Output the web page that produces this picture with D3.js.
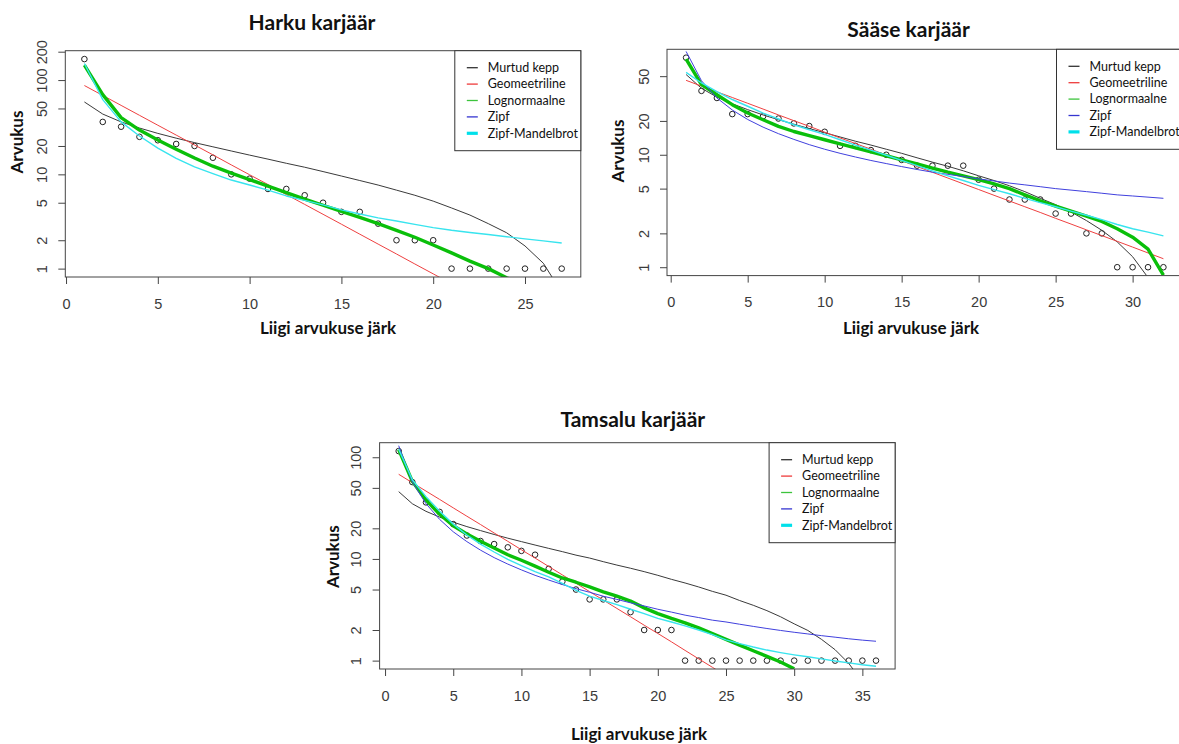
<!DOCTYPE html>
<meta charset="utf-8">

<head>
	<style>
		body { margin: 0; background: #fff; }
		.title { font: bold 21px Lato, sans-serif; fill: #111; }
		.lab { font: bold 17px Lato, sans-serif; fill: #111; }
		.axis text { font: 14.5px "Liberation Sans", Arial, sans-serif; fill: #3a3a3a; }
		.axis line { stroke: #444; }
		.leg text { font: 12.5px Lato, sans-serif; fill: #111; }
	</style>
	<title>Liikide arvukuse järgu mudelid</title>
</head>

<svg width="1179" height="744"></svg>
<script src="https://cdn.jsdelivr.net/npm/d3@7/dist/d3.min.js"></script>

<script>

// legend text, shared by all three panels
var modelNames = ["Murtud kepp", "Geomeetriline", "Lognormaalne", "Zipf", "Zipf-Mandelbrot"];

// Harku: observed abundance per rank and fitted model values (rank = index + 1)
var harkuObs = [167, 36, 32, 25, 23, 21, 20, 15, 10, 9, 7, 7, 6, 5, 4, 4, 3, 2, 2, 2, 1, 1, 1, 1, 1, 1, 1];
var harkuBroken = [58.6, 43.6, 36.0, 31.0, 27.2, 24.2, 21.7, 19.6, 17.7, 16.0, 14.5, 13.1, 11.9, 10.7, 9.6, 8.6, 7.7, 6.8, 6.0, 5.2, 4.4, 3.7, 3.0, 2.4, 1.74, 1.14, 0.56];
var harkuGeom = [87.5, 68.7, 53.9, 42.3, 33.2, 26.1, 20.5, 16.1, 12.6, 9.9, 7.8, 6.1, 4.8, 3.77, 2.96, 2.32, 1.82, 1.43, 1.12, 0.88, 0.69, 0.54, 0.43, 0.33, 0.26, 0.21, 0.16];
var harkuLognorm = [144, 70, 40, 29.5, 23.2, 18.5, 14.9, 12.2, 10.3, 8.8, 7.5, 6.4, 5.45, 4.7, 4.05, 3.5, 3.0, 2.55, 2.15, 1.78, 1.47, 1.2, 1.0, 0.8, 0.65, 0.52, 0.42];
var harkuZipf = null; // not visible in the picture (lies under Zipf-Mandelbrot)
var harkuMandel = [150, 62, 36, 25.5, 19, 14.8, 12, 10.2, 8.7, 7.7, 6.8, 5.9, 5.3, 4.75, 4.2, 3.8, 3.45, 3.2, 2.95, 2.72, 2.55, 2.42, 2.3, 2.18, 2.07, 1.97, 1.87];
var harkuXTicks = [0, 5, 10, 15, 20, 25];
var harkuYTicks = [1, 2, 5, 10, 20, 50, 100, 200];

// Sääse
var saaseObs = [73, 37, 32, 23, 23, 22, 21, 19, 18, 16, 12, 12, 11, 10, 9, 8, 8, 8, 8, 6, 5, 4, 4, 4, 3, 3, 2, 2, 1, 1, 1, 1];
var saaseBroken = [51.7, 39.0, 32.6, 28.4, 25.2, 22.6, 20.5, 18.7, 17.1, 15.7, 14.4, 13.2, 12.2, 11.2, 10.3, 9.4, 8.6, 7.9, 7.2, 6.5, 5.9, 5.3, 4.7, 4.1, 3.6, 3.1, 2.6, 2.13, 1.68, 1.24, 0.81, 0.40];
var saaseGeom = [45.9, 40.8, 36.3, 32.3, 28.7, 25.5, 22.6, 20.1, 17.9, 15.9, 14.1, 12.6, 11.2, 9.95, 8.85, 7.86, 6.99, 6.21, 5.52, 4.91, 4.36, 3.88, 3.45, 3.07, 2.72, 2.42, 2.15, 1.91, 1.70, 1.51, 1.34, 1.19];
var saaseLognorm = [71, 42, 34.2, 27.9, 23.5, 20.5, 17.9, 16.1, 14.8, 13.6, 12.5, 11.5, 10.6, 9.8, 9.0, 8.3, 7.6, 7.0, 6.5, 6.0, 5.5, 5.0, 4.4, 3.9, 3.5, 3.15, 2.85, 2.55, 2.2, 1.85, 1.45, 0.85];
var saaseZipf = [83, 45.5, 32, 25, 20.6, 17.6, 15.4, 13.7, 12.3, 11.2, 10.3, 9.55, 8.9, 8.35, 7.85, 7.4, 7.0, 6.7, 6.4, 6.1, 5.85, 5.6, 5.4, 5.2, 5.0, 4.85, 4.7, 4.55, 4.4, 4.3, 4.2, 4.1];
var saaseMandel = [54, 43.5, 36.5, 31, 27, 23.5, 20.8, 18.5, 16.7, 15.2, 13.6, 12.2, 11.0, 9.9, 8.9, 8.0, 7.2, 6.5, 5.9, 5.35, 4.9, 4.5, 4.1, 3.75, 3.45, 3.15, 2.9, 2.65, 2.4, 2.2, 2.05, 1.9];
var saaseXTicks = [0, 5, 10, 15, 20, 25, 30];
var saaseYTicks = [1, 2, 5, 10, 20, 50];

// Tamsalu
var tamsaluObs = [115, 57, 36, 29, 22, 17, 15, 14, 13, 12, 11, 8, 6, 5, 4, 4, 4, 3, 2, 2, 2, 1, 1, 1, 1, 1, 1, 1, 1, 1, 1, 1, 1, 1, 1, 1];
var tamsaluBroken = [45.9, 34.9, 29.4, 25.8, 23.0, 20.8, 19.0, 17.4, 16.0, 14.8, 13.7, 12.7, 11.8, 10.9, 10.2, 9.4, 8.7, 8.1, 7.5, 6.9, 6.3, 5.8, 5.3, 4.8, 4.4, 3.9, 3.5, 3.1, 2.7, 2.3, 1.98, 1.62, 1.28, 0.94, 0.62, 0.31];
var tamsaluGeom = [68, 56.2, 46.5, 38.5, 31.8, 26.3, 21.8, 18.0, 14.9, 12.3, 10.2, 8.43, 6.97, 5.77, 4.77, 3.94, 3.26, 2.70, 2.23, 1.85, 1.53, 1.26, 1.04, 0.86, 0.71, 0.59];
var tamsaluLognorm = [119, 58, 38, 27.5, 21.2, 17.6, 14.9, 12.8, 11.0, 9.7, 8.5, 7.4, 6.5, 5.9, 5.3, 4.75, 4.3, 3.85, 3.3, 2.9, 2.6, 2.35, 2.1, 1.85, 1.62, 1.42, 1.25, 1.1, 0.97, 0.83];
var tamsaluZipf = [130, 57, 35, 24.5, 18.5, 14.8, 12.2, 10.3, 8.9, 7.8, 6.9, 6.2, 5.6, 5.1, 4.7, 4.3, 4.0, 3.7, 3.45, 3.2, 3.0, 2.8, 2.65, 2.5, 2.4, 2.28, 2.17, 2.07, 1.98, 1.9, 1.83, 1.76, 1.7, 1.64, 1.59, 1.55];
var tamsaluMandel = [120, 60, 41, 29.5, 22, 17.2, 14, 11.7, 9.9, 8.6, 7.5, 6.65, 5.75, 4.9, 4.3, 3.9, 3.55, 3.2, 2.9, 2.6, 2.4, 2.2, 2.0, 1.8, 1.6, 1.47, 1.36, 1.27, 1.2, 1.14, 1.09, 1.04, 0.99, 0.95, 0.91, 0.88];
var tamsaluXTicks = [0, 5, 10, 15, 20, 25, 30, 35];
var tamsaluYTicks = [1, 2, 5, 10, 20, 50, 100];

// line styles: broken stick, geometric, lognormal, zipf, mandelbrot
var lineColors = ["#3a3a3a", "#ee4040", "#0abf0a", "#4040dd", "#38e4ee"];
var lineWidths = [1, 1, 3.4, 1, 1.4];
var legColors = ["#333", "#ee3b3b", "#3cc43c", "#3535d0", "#00e0ea"];
var legWidths = [1.3, 1.3, 1.3, 1.3, 3.2];

var panels = [
	{ id: "harku", title: "Harku karjäär", obs: harkuObs,
	  fits: [harkuBroken, harkuGeom, harkuLognorm, harkuZipf, harkuMandel],
	  xTicks: harkuXTicks, yTicks: harkuYTicks,
	  left: 65.3, top: 50.7, titleAt: [312, 22.7], xLabAt: [328, 328], yLabAt: [17, 142] },
	{ id: "saase", title: "Sääse karjäär", obs: saaseObs,
	  fits: [saaseBroken, saaseGeom, saaseLognorm, saaseZipf, saaseMandel],
	  xTicks: saaseXTicks, yTicks: saaseYTicks,
	  left: 667, top: 49.3, titleAt: [908.6, 29.3], xLabAt: [911, 328], yLabAt: [618, 151] },
	{ id: "tamsalu", title: "Tamsalu karjäär", obs: tamsaluObs,
	  fits: [tamsaluBroken, tamsaluGeom, tamsaluLognorm, tamsaluZipf, tamsaluMandel],
	  xTicks: tamsaluXTicks, yTicks: tamsaluYTicks,
	  left: 379.6, top: 442.7, titleAt: [632.8, 419.3], xLabAt: [639, 734], yLabAt: [333, 556.7] }
];

var svg = d3.select("svg");
var boxW = 515.5, boxH = 226.3;

panels.forEach(function(p) {
	var n = p.obs.length;
	var bottom = p.top + boxH;

	// R style ranges: 4% padding on both ends (log space for y)
	var x = d3.scaleLinear()
		.domain([1 - 0.04 * (n - 1), n + 0.04 * (n - 1)])
		.range([p.left, p.left + boxW]);
	var lmax = Math.log10(d3.max(p.obs));
	var y = d3.scaleLog()
		.domain([Math.pow(10, -0.04 * lmax), Math.pow(10, lmax * 1.04)])
		.range([bottom, p.top]);

	var g = svg.append("g");

	g.append("clipPath").attr("id", "clip-" + p.id)
		.append("rect")
		.attr("x", p.left).attr("y", p.top)
		.attr("width", boxW).attr("height", boxH);

	// axes
	var xa = g.append("g").attr("class", "axis")
		.attr("transform", "translate(0," + bottom + ")")
		.call(d3.axisBottom(x).tickValues(p.xTicks).tickSize(7).tickFormat(d3.format("d")));
	xa.select(".domain").remove();
	xa.selectAll("text").attr("y", 26.5).attr("dy", "0.35em");

	var ya = g.append("g").attr("class", "axis")
		.attr("transform", "translate(" + p.left + ",0)")
		.call(d3.axisLeft(y).tickValues(p.yTicks).tickSize(7).tickFormat(d3.format("d")));
	ya.select(".domain").remove();
	ya.selectAll("text")
		.attr("transform", "rotate(-90)")
		.attr("x", 0).attr("y", -23.5).attr("dy", "0.35em")
		.style("text-anchor", "middle");

	// observed points
	g.append("g").selectAll("circle")
		.data(p.obs)
		.enter().append("circle")
		.attr("cx", function(d, i) { return x(i + 1); })
		.attr("cy", function(d) { return y(d); })
		.attr("r", 2.8)
		.attr("fill", "none")
		.attr("stroke", "#222")
		.attr("stroke-width", 1);

	// fitted models
	var line = d3.line()
		.x(function(d, i) { return x(i + 1); })
		.y(function(d) { return y(d); });
	var lines = g.append("g").attr("clip-path", "url(#clip-" + p.id + ")");
	p.fits.forEach(function(vals, k) {
		if (!vals) return;
		lines.append("path")
			.datum(vals)
			.attr("d", line)
			.attr("fill", "none")
			.attr("stroke", lineColors[k])
			.attr("stroke-width", lineWidths[k])
			.attr("stroke-linejoin", "round");
	});

	// box
	g.append("rect")
		.attr("x", p.left).attr("y", p.top)
		.attr("width", boxW).attr("height", boxH)
		.attr("fill", "none").attr("stroke", "#444").attr("stroke-width", 1);

	// legend, top right inside the box
	var lw = 126, lh = 100;
	var leg = g.append("g").attr("class", "leg")
		.attr("transform", "translate(" + (p.left + boxW - lw) + "," + p.top + ")");
	leg.append("rect")
		.attr("width", lw).attr("height", lh)
		.attr("fill", "#fff").attr("stroke", "#333").attr("stroke-width", 1);
	modelNames.forEach(function(name, k) {
		var yy = 17 + k * 16.4;
		leg.append("line")
			.attr("x1", 12).attr("x2", 23).attr("y1", yy).attr("y2", yy)
			.attr("stroke", legColors[k]).attr("stroke-width", legWidths[k]);
		leg.append("text")
			.attr("x", 33).attr("y", yy).attr("dy", "0.35em")
			.text(name);
	});

	// titles
	g.append("text").attr("class", "title")
		.attr("x", p.titleAt[0]).attr("y", p.titleAt[1]).attr("dy", "0.35em")
		.attr("text-anchor", "middle")
		.text(p.title);
	g.append("text").attr("class", "lab")
		.attr("x", p.xLabAt[0]).attr("y", p.xLabAt[1]).attr("dy", "0.35em")
		.attr("text-anchor", "middle")
		.text("Liigi arvukuse järk");
	g.append("text").attr("class", "lab")
		.attr("transform", "translate(" + p.yLabAt[0] + "," + p.yLabAt[1] + ") rotate(-90)")
		.attr("dy", "0.35em")
		.attr("text-anchor", "middle")
		.text("Arvukus");
});

</script>
